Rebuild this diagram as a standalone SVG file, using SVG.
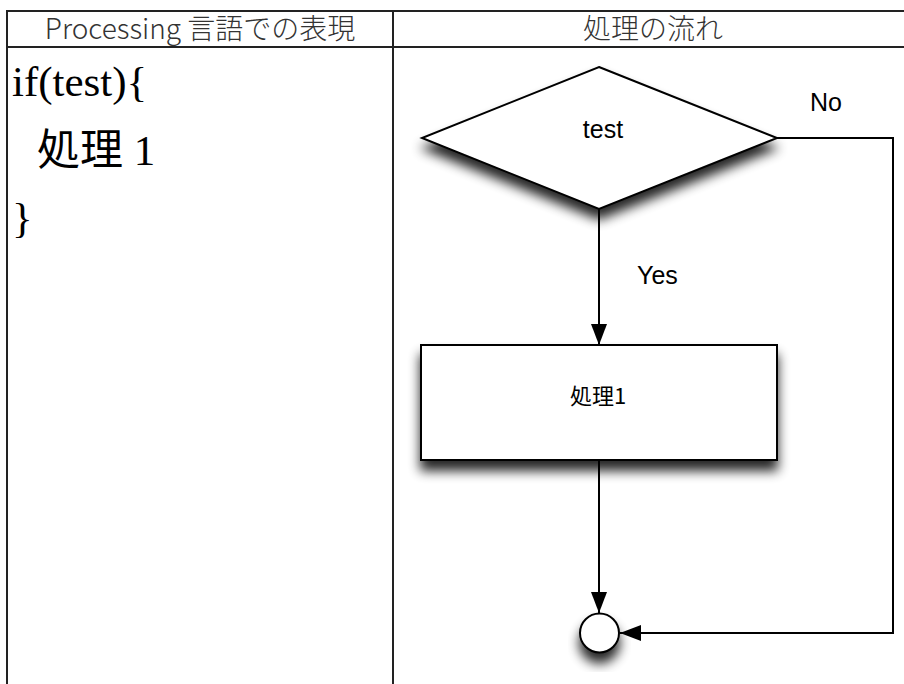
<svg xmlns="http://www.w3.org/2000/svg" width="904" height="684" viewBox="0 0 904 684">
  <style>
    .grid { stroke: #222; stroke-width: 2; fill: none; }
    .hdr { font-family: "Noto Sans CJK JP", "Noto Sans", sans-serif; font-weight: 300; font-size: 28px; fill: #333; text-anchor: middle; }
    .code { font-family: "Liberation Serif", "Noto Sans CJK JP", serif; font-size: 43px; fill: #000; }
    .shape { fill: #fff; stroke: #000; stroke-width: 2; }
    .lbl { font-family: "Liberation Sans", Arial, sans-serif; font-size: 25px; fill: #000; }
    .jlbl { font-family: "Noto Sans CJK JP", sans-serif; font-size: 22px; fill: #000; text-anchor: middle; }
    .conn { stroke: #000; stroke-width: 2; fill: none; }
  </style>
  <defs>
    <filter id="shadow" x="-30%" y="-30%" width="160%" height="180%">
      <feGaussianBlur in="SourceAlpha" stdDeviation="6"/>
      <feOffset dx="0" dy="10" result="b"/>
      <feComponentTransfer><feFuncA type="linear" slope="0.85"/></feComponentTransfer>
      <feMerge><feMergeNode/><feMergeNode in="SourceGraphic"/></feMerge>
    </filter>
    <marker id="arrow" viewBox="0 0 21 16" refX="21" refY="8" markerWidth="21" markerHeight="16" markerUnits="userSpaceOnUse" orient="auto">
      <path d="M0,0 L21,8 L0,16 Z" fill="#000"/>
    </marker>
  </defs>
  <rect width="904" height="684" fill="#fff"/>

  <g id="table">
    <line class="grid" x1="7" y1="11" x2="904" y2="11"/>
    <line class="grid" x1="7" y1="47" x2="904" y2="47"/>
    <line class="grid" x1="7" y1="10" x2="7" y2="684"/>
    <line class="grid" x1="393" y1="10" x2="393" y2="684"/>
    <text class="hdr" x="200" y="39">Processing 言語での表現</text>
    <text class="hdr" x="653" y="39">処理の流れ</text>
  </g>

  <g id="code">
    <text class="code" x="12" y="96">if(test){</text>
    <text class="code" x="37" y="165">処理 1</text>
    <text class="code" x="12" y="232">}</text>
  </g>

  <g id="connectors">
    <line class="conn" x1="599" y1="209" x2="599" y2="345" marker-end="url(#arrow)"/>
    <line class="conn" x1="599" y1="460" x2="599" y2="613" marker-end="url(#arrow)"/>
    <path class="conn" d="M777,138 H893 V633 H620" marker-end="url(#arrow)"/>
    <text class="lbl" x="637" y="284" font-size="24">Yes</text>
    <text class="lbl" x="810" y="111">No</text>
  </g>

  <g id="decision">
    <polygon class="shape" filter="url(#shadow)" points="599,67 777,138 599,209 422,138"/>
    <text class="lbl" x="603" y="138" text-anchor="middle">test</text>
  </g>

  <g id="process1">
    <rect class="shape" filter="url(#shadow)" x="421" y="345" width="356" height="115"/>
    <text class="jlbl" x="598" y="404">処理1</text>
  </g>

  <g id="end">
    <circle class="shape" filter="url(#shadow)" cx="599.5" cy="633" r="19.5"/>
  </g>
</svg>
